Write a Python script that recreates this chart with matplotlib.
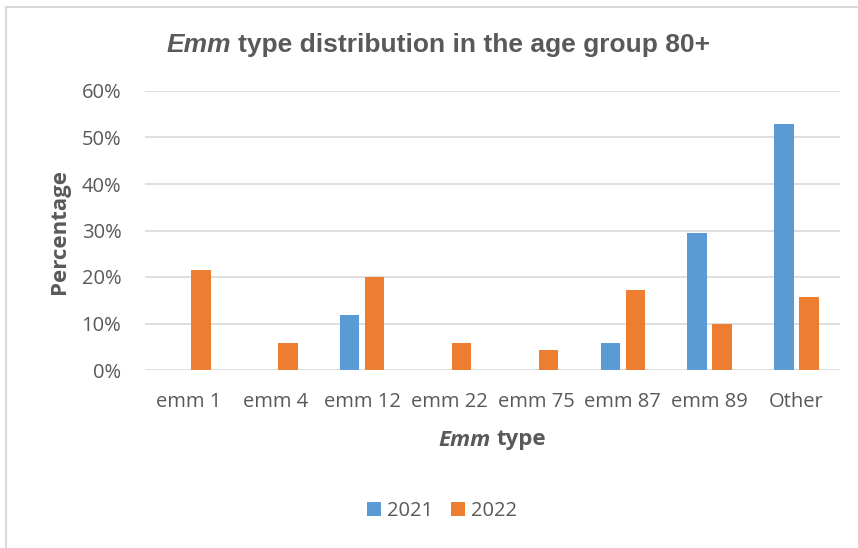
import matplotlib
matplotlib.use("Agg")
import matplotlib.pyplot as plt
import numpy as np
from matplotlib.lines import Line2D
from matplotlib.ticker import PercentFormatter

categories = ["emm 1", "emm 4", "emm 12", "emm 22", "emm 75", "emm 87", "emm 89", "Other"]
pct_2021 = [0.0, 0.0, 11.8, 0.0, 0.0, 5.9, 29.4, 52.9]
pct_2022 = [21.4, 5.7, 20.0, 5.7, 4.3, 17.1, 10.0, 15.7]
years = ["2021", "2022"]

BLUE = "#5b9bd5"
ORANGE = "#ed7d31"
TXT = "#595959"
GRID = "#d9d9d9"
FONT = ["Open Sans", "DejaVu Sans"]
W, H = 858, 548


def two_part(fig, cx, cy, first, rest, family, size):
    # italic bold word + bold remainder, centred together at (cx, cy) pixels
    a = fig.text(0, cy / H, first, ha="left", va="center", family=family, fontsize=size,
                 fontweight="bold", style="italic", color=TXT)
    b = fig.text(0, cy / H, rest, ha="left", va="center", family=family, fontsize=size,
                 fontweight="bold", color=TXT)
    fig.canvas.draw()
    r = fig.canvas.get_renderer()
    wa = a.get_window_extent(r).width
    wb = b.get_window_extent(r).width
    gap = size * 0.35
    x0 = cx - (wa + gap + wb) / 2
    a.set_x(x0 / W)
    b.set_x((x0 + wa + gap) / W)


fig = plt.figure(figsize=(W / 100, H / 100), dpi=100)
ax = fig.add_axes([145 / W, 1 - 370 / H, 695 / W, 279 / H])

x = np.arange(len(categories))
w = 0.225
off = 0.144
ax.bar(x - off, pct_2021, w, color=BLUE, label=years[0], zorder=3)
ax.bar(x + off, pct_2022, w, color=ORANGE, label=years[1], zorder=3)

ax.set_xlim(-0.5, len(categories) - 0.5)
ax.set_ylim(0, 60)
ax.set_yticks(range(0, 61, 10))
ax.yaxis.set_major_formatter(PercentFormatter(decimals=0))
ax.grid(axis="y", color=GRID, lw=1.2, zorder=0)
for s in ax.spines.values():
    s.set_visible(False)
ax.tick_params(axis="y", length=0, colors=TXT, labelsize=14.5, pad=17)
ax.tick_params(axis="x", length=0, colors=TXT, labelsize=14.5, pad=16)
ax.set_xticks(x)
ax.set_xticklabels(categories)
for lab in ax.get_xticklabels() + ax.get_yticklabels():
    lab.set_fontfamily(FONT)

# axis titles
fig.text(59 / W, 1 - 231 / H, "Percentage", rotation=90, ha="center", va="center",
         family=FONT, fontsize=16, fontweight="bold", color=TXT)
two_part(fig, 492, H - 440, "Emm", "type", FONT, 16)

# chart title
two_part(fig, 438, H - 45, "Emm", "type distribution in the age group 80+", "Liberation Sans", 19)

leg = fig.legend(loc="center", bbox_to_anchor=(442 / W, 1 - 511 / H), ncol=2, frameon=False,
                 prop={"family": FONT, "size": 14.5}, handlelength=0.7, handleheight=0.7,
                 columnspacing=0.9, handletextpad=0.3)
for t in leg.get_texts():
    t.set_color(TXT)

fig.add_artist(Line2D([6 / W, 6 / W], [0, 1 - 7 / H], color=GRID, lw=1.5))
fig.add_artist(Line2D([6 / W, 1], [1 - 7 / H, 1 - 7 / H], color=GRID, lw=1.5))

fig.savefig("out.png", dpi=100)
